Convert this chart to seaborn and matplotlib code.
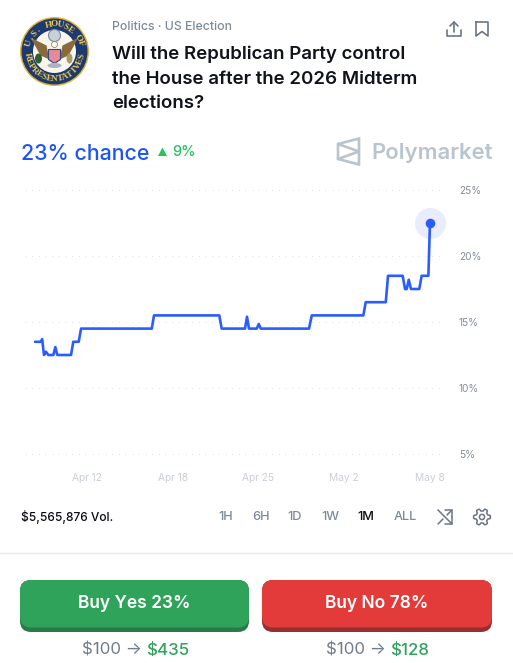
import numpy as np
import pandas as pd
import seaborn as sns
import matplotlib
matplotlib.use("Agg")
import matplotlib.pyplot as plt
from matplotlib.patches import Circle, FancyBboxPatch, Polygon, Ellipse

# days since Apr 12 and chance in percent
days = [-3.94, -3.50, -3.40, -3.26, -3.11, -2.93, -2.55, -2.40, -2.25, -1.21, -1.04, -0.63, -0.45,
        4.91, 5.08, 10.03, 10.21, 11.98, 12.13, 12.28, 12.87, 13.02, 13.17, 16.83, 17.04,
        20.95, 21.13, 22.65, 22.82, 23.93, 24.11, 24.24, 24.39, 24.56, 25.19, 25.37, 25.88, 26.0]
chance = [13.5, 13.5, 13.7, 12.5, 12.75, 12.5, 12.5, 13.1, 12.5, 12.5, 13.5, 13.5, 14.5,
          14.5, 15.5, 15.5, 14.5, 14.5, 15.4, 14.5, 14.5, 14.85, 14.5, 14.5, 15.5,
          15.5, 16.5, 16.5, 18.5, 18.5, 17.5, 17.5, 18.2, 17.5, 17.5, 18.5, 18.5, 22.5]
x_ticks = [0, 6.5, 13, 19.5, 26]
x_labels = ["Apr 12", "Apr 18", "Apr 25", "May 2", "May 8"]
y_ticks = [5, 10, 15, 20, 25]
y_labels = ["5%", "10%", "15%", "20%", "25%"]
ranges = ["1H", "6H", "1D", "1W", "1M", "ALL"]

W, H = 513, 663
BLUE = "#2a5cff"
GREY = "#7c8a9c"

sns.set_theme(style="white")
plt.rcParams["font.family"] = ["Inter", "DejaVu Sans"]

fig = plt.figure(figsize=(W / 100, H / 100), dpi=100, facecolor="white")

# overlay in pixel coordinates for everything around the chart
ui = fig.add_axes([0, 0, 1, 1])
ui.set_xlim(0, W)
ui.set_ylim(H, 0)
ui.axis("off")

# chart
ax = fig.add_axes([25 / W, 1 - 454 / H, 420 / W, 264 / H])
ax.patch.set_alpha(0)
df = pd.DataFrame({"day": days, "chance": chance})
sns.lineplot(data=df, x="day", y="chance", color=BLUE, linewidth=1.9, ax=ax,
             solid_joinstyle="round", zorder=4)
sns.scatterplot(x=days[-1:], y=chance[-1:], s=500, color="#e9edfb", linewidth=0, ax=ax, zorder=3)
sns.scatterplot(x=days[-1:], y=chance[-1:], s=48, color=BLUE, linewidth=0, ax=ax, zorder=5)
ax.set_xlim(-4.70, 27.14)
ax.set_ylim(5, 25)
ax.set_xlabel("")
ax.set_ylabel("")
ax.set_xticks(x_ticks, x_labels)
ax.yaxis.tick_right()
ax.set_yticks(y_ticks, y_labels)
ax.tick_params(axis="x", length=0, pad=13.5, labelsize=7.3, labelcolor="#c9ced6")
ax.tick_params(axis="y", length=0, pad=10, labelsize=7.3, labelcolor="#858d99")
ax.grid(axis="y", color="#e2e5e9", linestyle=(0, (1, 5)), linewidth=0.8)
ax.grid(axis="x", visible=False)
ax.set_axisbelow(True)
sns.despine(ax=ax, left=True, bottom=True, top=True, right=True)
for line in ax.get_ygridlines():
    line.set_clip_on(False)

# seal
cx, cy = 54.5, 51.5
ui.add_patch(Circle((cx, cy), 34.5, fc="#e2b33a", ec="none"))
ui.add_patch(Circle((cx, cy), 33, fc="#1c3a70", ec="none"))
ui.add_patch(Circle((cx, cy), 21.5, fc="#f7f5ec", ec="none"))
ui.add_patch(Polygon([(cx - 24, cy - 14), (cx - 8, cy - 6), (cx - 5, cy + 8), (cx - 14, cy + 4)],
                     fc="#8a6a3a", ec="none"))
ui.add_patch(Polygon([(cx + 24, cy - 14), (cx + 8, cy - 6), (cx + 5, cy + 8), (cx + 14, cy + 4)],
                     fc="#8a6a3a", ec="none"))
ui.add_patch(Circle((cx, cy - 16), 6, fc="#c9d0d6", ec="#7a8aa0", lw=0.8))
ui.add_patch(Circle((cx, cy - 7), 3, fc="#f7f7f0", ec="#8a7a50", lw=0.5))
ui.add_patch(Polygon([(cx - 6, cy - 2), (cx + 6, cy - 2), (cx + 6, cy + 8), (cx, cy + 12), (cx - 6, cy + 8)],
                     fc="#e58a96", ec="#2c4a80", lw=0.8))
ui.add_patch(Ellipse((cx, cy + 14), 14, 5, fc="#aab4c0", ec="none"))
ui.add_patch(Ellipse((cx - 16, cy + 7), 7, 10, fc="#2f5e35", ec="none"))
ui.add_patch(Ellipse((cx + 15, cy + 7), 6, 10, fc="#a89a70", ec="none"))


def ring_text(s, start, end, r, flip=False):
    for ch, a in zip(s, np.linspace(start, end, len(s))):
        px, py = cx + r * np.cos(np.radians(a)), cy - r * np.sin(np.radians(a))
        rot = a - 90 if not flip else a + 90
        ui.text(px, py, ch, fontsize=6.6, color="#f0c94e", family="Liberation Serif", weight="bold",
                ha="center", va="center", rotation=rot, rotation_mode="anchor")


ring_text("U.S. HOUSE OF", 162, 18, 27)
ring_text("REPRESENTATIVES", 190, 350, 27.5, flip=True)

# header text
ui.text(112, 27, "Politics · US Election", fontsize=8.8, color=GREY, va="center", weight="medium")
for y, s in zip([54, 79, 103], ["Will the Republican Party control",
                                "the House after the 2026 Midterm",
                                "elections?"]):
    ui.text(112, y, s, fontsize=13.45, color="#10131c", va="center", weight="semibold")
ui.text(21, 153.5, "23% chance", fontsize=15.4, color="#1d55f5", va="center", weight="medium")
ui.add_patch(Polygon([(158, 156), (167, 156), (162.5, 147.5)], fc="#22c55e", ec="none"))
ui.text(172, 152.5, "9%", fontsize=10.6, color="#22c55e", va="center", weight="medium")

# polymarket logo
logo = "#b9c4cd"
ui.add_patch(Polygon([(338, 144), (359, 138.5), (359, 164.5), (338, 159)], fc="none", ec=logo, lw=1.9))
ui.plot([338, 359, 338], [144, 151.5, 159], color=logo, lw=1.9, solid_joinstyle="miter")
ui.text(371, 153, "Polymarket", fontsize=15.9, color=logo, va="center", weight="semibold")

# share and bookmark icons
ic = "#6b7585"
ui.plot([447, 447, 461, 461], [30, 36, 36, 30], color=ic, lw=1.2)
ui.plot([454, 454], [22, 32], color=ic, lw=1.2)
ui.plot([450, 454, 458], [26, 22, 26], color=ic, lw=1.2)
ui.plot([476, 476, 482, 488, 488, 476], [22, 36, 31.5, 36, 22, 22], color=ic, lw=1.2, solid_joinstyle="round")

# footer of the chart
ui.text(21, 517, "$5,565,876 Vol.", fontsize=8.6, color="#0b0d12", va="center", weight="medium")
for s, x in zip(ranges, [226, 261, 295, 330, 366, 405]):
    ui.text(x, 517, s, fontsize=9.2, color="#0b0d12" if s == "1M" else GREY, ha="center", va="center",
            weight="medium")

# shuffle icon
ui.plot([438, 452], [510, 524], color=ic, lw=1.1)
ui.plot([438, 443], [524, 519], color=ic, lw=1.1)
ui.plot([447, 452], [515, 510], color=ic, lw=1.1)
ui.plot([445, 452, 452], [510, 510, 517], color=ic, lw=1.1)
ui.plot([452, 452, 445], [517, 524, 524], color=ic, lw=1.1)

# gear icon
ang = np.linspace(0, 2 * np.pi, 97)
rad = 7.2 + 1.2 * np.clip(2.2 * np.cos(6 * ang), -1, 1)
ui.plot(482 + rad * np.cos(ang), 517 + rad * np.sin(ang), color=ic, lw=1.1)
ui.add_patch(Circle((482, 517), 2.6, fc="none", ec=ic, lw=1.1))

ui.plot([0, W], [553, 553], color="#e6e8eb", lw=1)


def button(x0, x1, fill, shade, label):
    ui.add_patch(FancyBboxPatch((x0, 580), x1 - x0, 52, boxstyle="round,pad=0,rounding_size=11",
                                fc=shade, ec="none"))
    ui.add_patch(FancyBboxPatch((x0, 580), x1 - x0, 47.5, boxstyle="round,pad=0,rounding_size=11",
                                fc=fill, ec="none"))
    ui.text((x0 + x1) / 2, 604, label, fontsize=12.5, color="white", ha="center", va="center", weight="semibold")


button(20, 249, "#30a35a", "#2a7a49", "Buy Yes 23%")
button(262, 492, "#e33a3a", "#962f2f", "Buy No 78%")

# payouts
for x, x2, s in [(82, 146, "$435"), (326, 390, "$128")]:
    ui.text(x, 650.5, "$100 →", fontsize=12.2, color="#6f7c8f", va="center")
    ui.text(x2, 650.5, s, fontsize=12.2, color="#30a35a", va="center", weight="medium")

fig.savefig("out.png", dpi=100)
